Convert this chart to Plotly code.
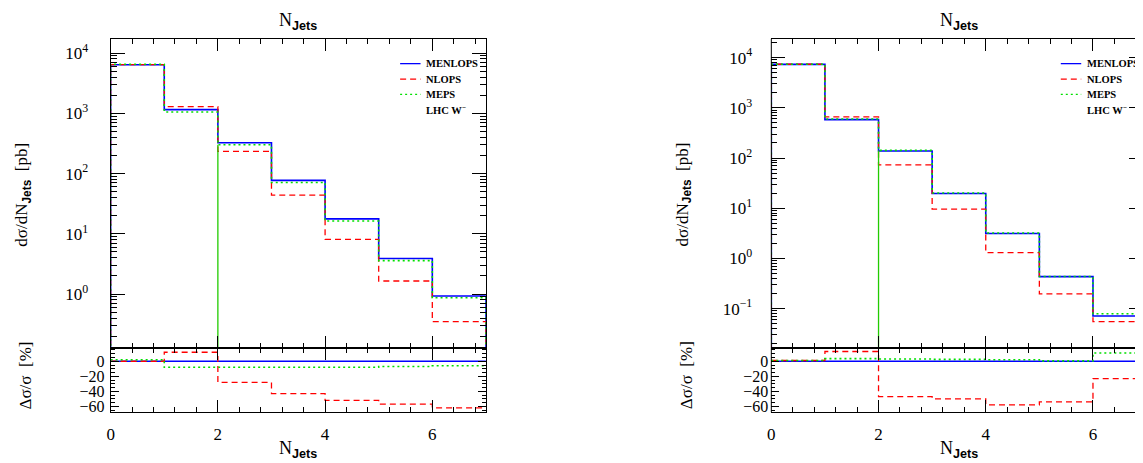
import plotly.graph_objects as go

# ---------------- data ----------------
bin_edges = [0, 1, 2, 3, 4, 5, 6, 7]
series_names = ["MENLOPS", "NLOPS", "MEPS"]
process_label = "LHC W<sup>−</sup>"

left_menlops = [6400, 1150, 325, 77, 17.7, 3.9, 0.93]
left_nlops = [6400, 1290, 234, 44, 8.1, 1.65, 0.35]
left_meps = [6530, 1050, 300, 71, 16.3, 3.6, 0.87]
left_ratio_menlops = [0, 0, 0, 0, 0, 0, 0]
left_ratio_nlops = [0, 12, -28, -43, -52, -57, -62]
left_ratio_meps = [2, -8, -8, -8, -8, -7, -6]

right_menlops = [7360, 582, 138, 19.6, 3.13, 0.433, 0.071]
right_nlops = [7400, 660, 73, 9.6, 1.3, 0.197, 0.055]
right_meps = [7400, 600, 142, 20.1, 3.2, 0.435, 0.079]
right_ratio_menlops = [0, 0, 0, 0, 0, 0, 0]
right_ratio_nlops = [1, 13, -47, -50, -58, -54, -23]
right_ratio_meps = [1, 3.5, 3, 2.5, 2, 0.5, 11]

log_tick_exponents = [-1, 0, 1, 2, 3, 4]
ratio_ticks = [0, -20, -40, -60]
x_ticks = [0, 2, 4, 6]

# ---------------- style ----------------
PAGE_W, PAGE_H = 1143, 463
OFF = 8  # default page body margin
W, H = PAGE_W - OFF, PAGE_H - OFF
colors = ["#0000ff", "#ff0000", "#00e000"]
dashes = ["solid", "6px,4px", "2px,3px"]
widths = [1.6, 1.3, 1.6]
SERIF = "Liberation Serif"
SANS = "Liberation Sans"
UNIT = 53.8  # px per x unit

def px_x(p):  # page pixel -> paper fraction
    return (p - OFF) / W

def px_y(p):
    return 1 - (p - OFF) / H

panels = [
    dict(main=[left_menlops, left_nlops, left_meps],
         ratio=[left_ratio_menlops, left_ratio_nlops, left_ratio_meps],
         x0=107, xmax=7.0, yrange=[-0.89, 4.236],
         ax=("x", "y", "x2", "y2"), right_visible=True),
    dict(main=[right_menlops, right_nlops, right_meps],
         ratio=[right_ratio_menlops, right_ratio_nlops, right_ratio_meps],
         x0=770, xmax=(PAGE_W - 770) / UNIT, yrange=[-1.78, 4.376],
         ax=("x3", "y3", "x4", "y4"), right_visible=False),
]

main_dom = [px_y(350), px_y(39)]
ratio_dom = [px_y(415), px_y(350)]
TINY = 1e-6

fig = go.Figure()
layout = dict(width=W, height=H, margin=dict(l=0, r=0, t=0, b=0),
              paper_bgcolor="white", plot_bgcolor="white", showlegend=False)
annotations = []
shapes = []

minor_log_vals = [m * 10.0 ** e for e in range(-3, 6) for m in range(2, 10)]

def axname(a):
    return ("xaxis" if a[0] == "x" else "yaxis") + a[1:]

for p in panels:
    xm, ym, xr, yr = p["ax"]
    xdom = [px_x(p["x0"]), min(1.0, px_x(p["x0"] + p["xmax"] * UNIT))]
    # main histograms (closed steps)
    for vals, c, d, w in zip(p["main"], colors, dashes, widths):
        xs = [bin_edges[0]] + bin_edges[:-1] + [bin_edges[-1], bin_edges[-1]]
        ys = [TINY] + vals + [vals[-1], TINY]
        fig.add_trace(go.Scatter(x=xs, y=ys, mode="lines", line_shape="hv",
                                 line=dict(color=c, dash=d, width=w),
                                 xaxis=xm, yaxis=ym, hoverinfo="skip"))
    # solid green drop at x = 2
    meps_vals = p["main"][2]
    fig.add_trace(go.Scatter(x=[bin_edges[2], bin_edges[2]], y=[meps_vals[2], TINY],
                             mode="lines", line=dict(color="#22cc00", width=1.3),
                             xaxis=xm, yaxis=ym, hoverinfo="skip"))
    # ratio histograms
    for vals, c, d, w in zip(p["ratio"], colors, dashes, widths):
        fig.add_trace(go.Scatter(x=bin_edges, y=vals + [vals[-1]], mode="lines",
                                 line_shape="hv", line=dict(color=c, dash=d, width=w),
                                 xaxis=xr, yaxis=yr, hoverinfo="skip"))

    xbase = dict(domain=xdom, range=[0, p["xmax"]], showline=True, linecolor="black",
                 linewidth=1, mirror="ticks", ticks="inside", ticklen=12, tickwidth=1,
                 tickcolor="black", tickmode="array", tickvals=x_ticks,
                 minor=dict(ticks="inside", ticklen=5, tickmode="linear", tick0=0, dtick=0.4,
                            tickcolor="black", showgrid=False),
                 showgrid=False, zeroline=False,
                 tickfont=dict(family=SERIF, size=17, color="black"))
    xmain = dict(xbase, anchor=ym, showticklabels=False)
    xrat = dict(xbase, anchor=yr, showticklabels=True, ticklabelstandoff=6)
    yshow = p["right_visible"]
    ymain = dict(domain=main_dom, type="log", range=p["yrange"], anchor=xm,
                 showline=yshow, linecolor="black", linewidth=1, mirror="ticks",
                 ticks="inside", ticklen=14, tickcolor="black", tickmode="array",
                 tickvals=[10.0 ** e for e in log_tick_exponents],
                 ticktext=["10<sup>%s</sup>" % (str(e).replace("-", "−")) for e in log_tick_exponents],
                 minor=dict(ticks="inside", ticklen=6, tickmode="array", tickvals=minor_log_vals,
                            tickcolor="black", showgrid=False),
                 showgrid=False, zeroline=False, ticklabelstandoff=18,
                 tickfont=dict(family=SERIF, size=17, color="black"))
    yrat = dict(domain=ratio_dom, range=[-68, 18], anchor=xr,
                showline=yshow, linecolor="black", linewidth=1, mirror="ticks",
                ticks="inside", ticklen=8, tickcolor="black", tickmode="array",
                tickvals=ratio_ticks,
                minor=dict(ticks="inside", ticklen=4, tickmode="linear", tick0=0, dtick=5,
                           tickcolor="black", showgrid=False),
                showgrid=False, zeroline=False, ticklabelstandoff=2,
                tickfont=dict(family=SERIF, size=16, color="black"))
    layout[axname(xm)] = xmain
    layout[axname(ym)] = ymain
    layout[axname(xr)] = xrat
    layout[axname(yr)] = yrat
    if not yshow:
        for ya in (ym, yr):
            shapes.append(dict(type="line", xref=xm + " domain", yref=ya + " domain",
                               x0=0, x1=0, y0=0, y1=1, line=dict(color="black", width=1)))

    # titles / labels
    x0p = p["x0"]
    cx = px_x(x0p + 3.5 * UNIT)
    njets = "N<sub><span style='font-family:%s'><b>Jets</b></span></sub>" % SANS
    annotations.append(dict(text=njets, x=cx, y=px_y(22), xref="paper", yref="paper",
                            showarrow=False, xanchor="center", yanchor="middle",
                            font=dict(family=SERIF, size=18, color="black")))
    annotations.append(dict(text=njets, x=cx, y=px_y(452), xref="paper", yref="paper",
                            showarrow=False, xanchor="center", yanchor="middle",
                            font=dict(family=SERIF, size=18, color="black")))
    annotations.append(dict(text="dσ/dN<sub><span style='font-family:%s'><b>Jets</b></span></sub>  [pb]" % SANS,
                            x=px_x(x0p - 88), y=px_y(196), xref="paper", yref="paper",
                            showarrow=False, textangle=-90, xanchor="center", yanchor="middle",
                            font=dict(family=SERIF, size=17, color="black")))
    annotations.append(dict(text="Δσ/σ  [%]",
                            x=px_x(x0p - 85), y=px_y(378), xref="paper", yref="paper",
                            showarrow=False, textangle=-90, xanchor="center", yanchor="middle",
                            font=dict(family=SERIF, size=17, color="black")))
    # legend
    lx0 = x0p + 290.5
    ly = [64, 79.5, 95, 110.3]
    for i, name in enumerate(series_names):
        shapes.append(dict(type="line", xref="paper", yref="paper",
                           x0=px_x(lx0), x1=px_x(lx0 + 20.5), y0=px_y(ly[i]), y1=px_y(ly[i]),
                           line=dict(color=colors[i], dash=dashes[i], width=1.3)))
    for i, name in enumerate(series_names + [process_label]):
        annotations.append(dict(text="<b>%s</b>" % name, x=px_x(lx0 + 24), y=px_y(ly[i]),
                                xref="paper", yref="paper", showarrow=False,
                                xanchor="left", yanchor="middle",
                                font=dict(family=SERIF, size=10.5, color="black")))

layout["annotations"] = annotations
layout["shapes"] = shapes
fig.update_layout(**layout)
fig.write_html("out.html")
